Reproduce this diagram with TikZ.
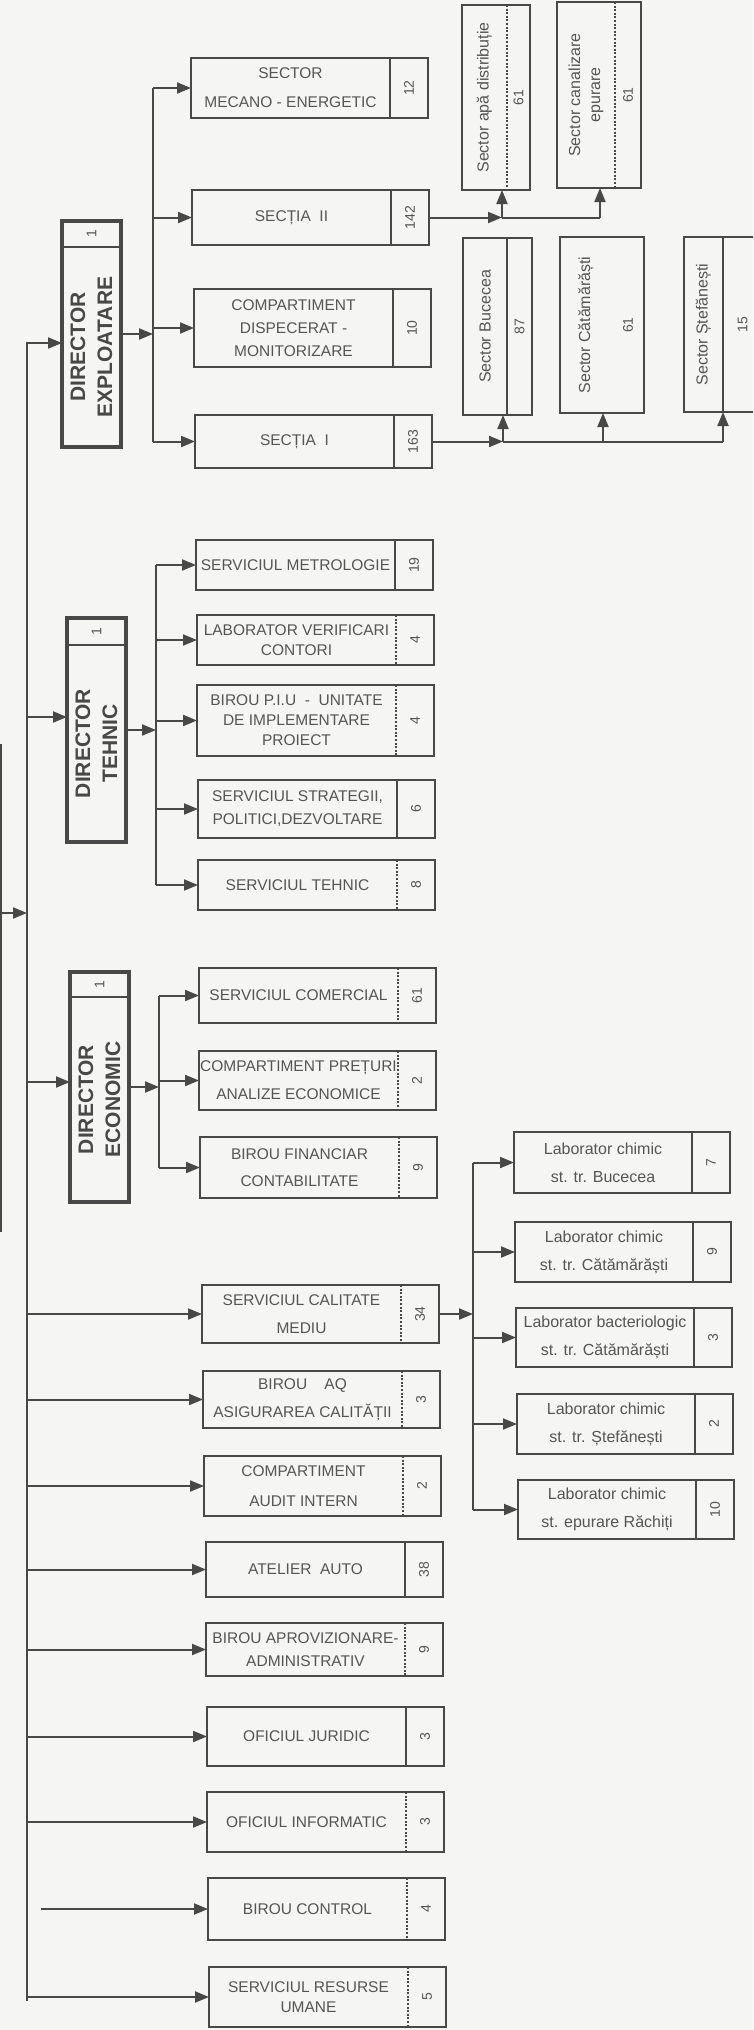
\documentclass[tikz,border=0pt]{standalone}
\usepackage{fontspec}
\setmainfont{Liberation Sans}
\usetikzlibrary{arrows.meta,calc}
\definecolor{ln}{RGB}{72,72,72}
\definecolor{tx}{RGB}{85,85,85}
\definecolor{bgc}{RGB}{245,245,243}
\def\BW{237}\def\BD{199}\def\BF{15.5}
\newcommand{\orgbox}[8]{%
  \pgfmathsetmacro\obh{#4-#3}%
  \pgfmathsetmacro\obm{(#3+#4)/2}%
  \pgfmathsetmacro\obt{#2+\BD/2}%
  \pgfmathsetmacro\obn{#2+(\BD+\BW)/2}%
  \node[mbox, minimum width=\BW pt, minimum height=\obh pt, anchor=north west] (#1) at (#2,#3) {};
  \node[mtext, font=\fontsize{\BF}{#8}\selectfont] (#1-t) at (\obt,\obm) {#5};
  \node[ntext] (#1-n) at (\obn,\obm) {#6};
  \draw[#7] ([xshift=\BD pt]#1.north west) -- ([xshift=\BD pt]#1.south west);
}
\newcommand{\dirbox}[7]{%
  \pgfmathsetmacro\dbw{#3-#2}%
  \pgfmathsetmacro\dbh{#5-#4}%
  \pgfmathsetmacro\dbx{(#2+#3)/2}%
  \pgfmathsetmacro\dby{(#6+#5)/2}%
  \pgfmathsetmacro\dhy{(#4+#6)/2}%
  \pgfmathsetmacro\dhs{#6-#4}%
  \node[dbox, minimum width=\dbw pt, minimum height=\dbh pt, anchor=north west] (#1) at (#2,#4) {};
  \draw[dline] ([yshift=-\dhs pt]#1.north west) -- ([yshift=-\dhs pt]#1.north east);
  \node[ntext] (#1-n) at (\dbx,\dhy) {1};
  \node[dtext] (#1-t) at (\dbx,\dby) {#7};
}
\newcommand{\secbox}[9]{%
  \pgfmathsetmacro\sbw{#3-#2}%
  \pgfmathsetmacro\sbh{#5-#4}%
  \pgfmathsetmacro\sbm{(#4+#5)/2}%
  \pgfmathsetmacro\sbt{(#2+#6)/2}%
  \pgfmathsetmacro\sbn{(#6+#3)/2}%
  \pgfmathsetmacro\sbd{#6-#2}%
  \node[sbox, minimum width=\sbw pt, minimum height=\sbh pt, anchor=north west] (#1) at (#2,#4) {};
  \node[stext] (#1-t) at (\sbt,\sbm) {#7};
  \node[ntext] (#1-n) at (\sbn,\sbm) {#8};
  \draw[#9] ([xshift=\sbd pt]#1.north west) -- ([xshift=\sbd pt]#1.south west);
}
\begin{document}
\begin{tikzpicture}[x=1pt,y=-1pt,
  conn/.style={draw=ln, line width=2pt},
  arr/.style={draw=ln, line width=2pt, -{Triangle[length=14pt,width=11pt]}},
  mbox/.style={draw=ln, line width=2.4pt, inner sep=0pt, outer sep=0pt},
  sbox/.style={draw=ln, line width=2.2pt, inner sep=0pt, outer sep=0pt},
  dbox/.style={draw=ln, line width=3.6pt, inner sep=0pt, outer sep=0pt},
  dline/.style={draw=ln, line width=2pt},
  mtext/.style={text=tx, align=center, inner sep=0pt},
  ntext/.style={text=tx, rotate=90, inner sep=0pt, font=\fontsize{14}{16}\selectfont},
  stext/.style={text=tx, rotate=90, align=center, inner sep=0pt, font=\fontsize{16}{20}\selectfont},
  dtext/.style={text=ln, rotate=90, align=center, inner sep=0pt, font=\fontsize{21}{27}\selectfont\bfseries},
  dv/.style={draw=ln, line width=1.6pt},
  dd/.style={draw=ln, line width=1.5pt, dash pattern=on 2pt off 1.6pt},
  nodiv/.style={draw=none}
]
\fill[bgc] (0,0) rectangle (753,2030);
\useasboundingbox (0,0) rectangle (753,2030);
\clip (0,0) rectangle (753,2030);

% ---------- directors ----------
\dirbox{dirE}{62}{121}{221}{447}{247}{DIRECTOR\\EXPLOATARE}
\dirbox{dirT}{67}{126}{618}{842}{645}{DIRECTOR\\TEHNIC}
\dirbox{dirC}{70}{129}{972}{1202}{997}{DIRECTOR\\ECONOMIC}

% ---------- middle column ----------
\orgbox{mec}{191}{58}{118}{SECTOR\\MECANO - ENERGETIC}{12}{dv}{29}
\orgbox{sec2}{192}{190}{245}{SECȚIA\ \ II}{142}{dv}{27}
\orgbox{disp}{194}{289}{367}{COMPARTIMENT\\DISPECERAT -\\MONITORIZARE}{10}{dv}{23}
\orgbox{sec1}{195}{415}{468}{SECȚIA\ \ I}{163}{dv}{27}
\orgbox{met}{196}{540}{590}{SERVICIUL METROLOGIE}{19}{dv}{27}
\orgbox{lver}{197}{615}{665}{LABORATOR VERIFICARI\\CONTORI}{4}{dd}{20}
\orgbox{piu}{197}{685}{756}{BIROU P.I.U\ \ -\ \ UNITATE\\DE IMPLEMENTARE\\PROIECT}{4}{dd}{20}
\orgbox{strat}{198}{780}{838}{SERVICIUL STRATEGII,\\POLITICI,DEZVOLTARE}{6}{dv}{23}
\orgbox{teh}{198}{860}{910}{SERVICIUL TEHNIC}{8}{dd}{27}
\orgbox{com}{199}{968}{1023}{SERVICIUL COMERCIAL}{61}{dd}{27}
\orgbox{pret}{199}{1051}{1110}{COMPARTIMENT PREȚURI\\ANALIZE ECONOMICE}{2}{dd}{28}
\orgbox{fin}{200}{1137}{1198}{BIROU FINANCIAR\\CONTABILITATE}{9}{dd}{27}
\orgbox{calm}{202}{1285}{1343}{SERVICIUL CALITATE\\MEDIU}{34}{dd}{28}
\orgbox{aq}{203}{1371}{1428}{BIROU\ \ \ \ AQ\\ASIGURAREA CALITĂȚII}{3}{dd}{28}
\orgbox{aud}{204}{1456}{1516}{COMPARTIMENT\\AUDIT INTERN}{2}{dd}{30}
\orgbox{atel}{206}{1542}{1597}{ATELIER\ \ AUTO}{38}{dv}{27}
\orgbox{apr}{206}{1623}{1676}{BIROU APROVIZIONARE-\\ADMINISTRATIV}{9}{dd}{23}
\orgbox{jur}{207}{1707}{1766}{OFICIUL JURIDIC}{3}{dv}{27}
\orgbox{inf}{207}{1792}{1852}{OFICIUL INFORMATIC}{3}{dd}{27}
\orgbox{ctrl}{208}{1878}{1940}{BIROU CONTROL}{4}{dd}{27}
\orgbox{ru}{209}{1967}{2027}{SERVICIUL RESURSE\\UMANE}{5}{dd}{20}

% ---------- laboratories ----------
\def\BW{216}\def\BD{178}\def\BF{16}
\orgbox{lab1}{514}{1132}{1193}{Laborator chimic\\st. tr. Bucecea}{7}{dv}{28}
\orgbox{lab2}{515}{1222}{1282}{Laborator chimic\\st. tr. Cătămărăști}{9}{dv}{28}
\orgbox{lab3}{516}{1308}{1367}{Laborator bacteriologic\\st. tr. Cătămărăști}{3}{dv}{28}
\orgbox{lab4}{517}{1394}{1454}{Laborator chimic\\st. tr. Ștefănești}{2}{dv}{28}
\orgbox{lab5}{518}{1480}{1539}{Laborator chimic\\st. epurare Răchiți}{10}{dv}{28}

% ---------- sectors ----------
\secbox{apa}{462}{530}{5}{190}{507}{Sector apă distribuție}{61}{dd}
\secbox{can}{557}{641}{2}{188}{615}{Sector canalizare\\epurare}{61}{dd}
\secbox{buc}{463}{532}{238}{415}{507}{Sector Bucecea}{87}{dv}
\secbox{cat}{560}{644}{237}{413}{612}{Sector Cătămărăști}{61}{nodiv}
\secbox{ste}{684}{762}{237}{412}{723}{Sector Ștefănești}{15}{dv}

% ---------- trunk ----------
\coordinate (tt) at (27,343);
\coordinate (tb) at (27,2001);
\coordinate (tT) at (27,717);
\coordinate (tC) at (27,1082);
\coordinate (le1) at (1,744);
\coordinate (le2) at (1,1232);
\coordinate (lin) at (1,913);
\draw[arr] (tb) -- (tt) -- (tt -| dirE.west);
\draw[arr] (tT) -- (tT -| dirT.west);
\draw[arr] (tC) -- (tC -| dirC.west);
\draw[conn] (le1) -- (le2);
\draw[arr] (lin) -- (lin -| tt);
\foreach \n in {calm,aq,aud,atel,apr,jur,inf,ru}{
  \draw[arr] (\n.west -| tt) -- (\n.west);
}
\coordinate (cst) at (41,1909);
\draw[arr] (cst) -- (cst -| ctrl.west);

% ---------- exploatare bus ----------
\coordinate (bE) at (153,0);
\draw[arr] (dirE.east) -- (dirE.east -| bE);
\draw[conn] (mec.west -| bE) -- (sec1.west -| bE);
\foreach \n in {mec,sec2,disp,sec1}{
  \draw[arr] (\n.west -| bE) -- (\n.west);
}
% ---------- tehnic bus ----------
\coordinate (bT) at (156,0);
\draw[arr] (dirT.east) -- (dirT.east -| bT);
\draw[conn] (met.west -| bT) -- (teh.west -| bT);
\foreach \n in {met,lver,piu,strat,teh}{
  \draw[arr] (\n.west -| bT) -- (\n.west);
}
% ---------- economic bus ----------
\coordinate (bC) at (159,0);
\draw[arr] (dirC.east) -- (dirC.east -| bC);
\draw[conn] (com.west -| bC) -- (fin.west -| bC);
\foreach \n in {com,pret,fin}{
  \draw[arr] (\n.west -| bC) -- (\n.west);
}
% ---------- laboratory bus ----------
\coordinate (bL) at (473,0);
\draw[arr] (calm.east) -- (calm.east -| bL);
\draw[conn] (lab1.west -| bL) -- (lab5.west -| bL);
\foreach \n in {lab1,lab2,lab3,lab4,lab5}{
  \draw[arr] (\n.west -| bL) -- (\n.west);
}
% ---------- sectors from SECTIA II ----------
\coordinate (x502) at (502,0);
\coordinate (x600) at (600,0);
\coordinate (j2) at (x502 |- sec2.east);
\coordinate (k2) at (x600 |- sec2.east);
\draw[arr] (sec2.east) -- (j2);
\draw[conn] (j2) -- (k2);
\draw[arr] (j2) -- (j2 |- apa.south);
\draw[arr] (k2) -- (k2 |- can.south);
% ---------- sectors from SECTIA I ----------
\coordinate (x503) at (503,0);
\coordinate (x603) at (603,0);
\coordinate (x723) at (723,0);
\coordinate (j1) at (x503 |- sec1.east);
\coordinate (k1) at (x603 |- sec1.east);
\coordinate (m1) at (x723 |- sec1.east);
\draw[arr] (sec1.east) -- (j1);
\draw[conn] (j1) -- (m1);
\draw[arr] (j1) -- (j1 |- buc.south);
\draw[arr] (k1) -- (k1 |- cat.south);
\draw[arr] (m1) -- (m1 |- ste.south);
\end{tikzpicture}
\end{document}
